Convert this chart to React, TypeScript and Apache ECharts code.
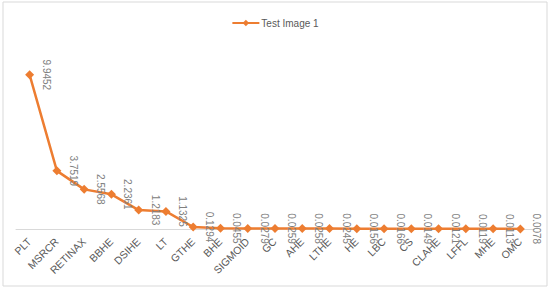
import React, { useEffect, useRef } from "react";
import * as echarts from "echarts";

const categories = ["PLT", "MSRCR", "RETINAX", "BBHE", "DSIHE", "LT", "GTHE", "BHE", "SIGMOID", "GC", "AHE", "LTHE", "HE", "LBC", "CS", "CLAHE", "LFFL", "MHE", "OMC"];
const values = [9.9452, 3.7519, 2.5568, 2.2361, 1.2183, 1.1325, 0.1294, 0.0455, 0.0279, 0.0259, 0.0258, 0.0245, 0.0156, 0.0166, 0.0149, 0.0121, 0.0119, 0.0113, 0.0078];
const seriesName = "Test Image 1";

export default function App() {
  const ref = useRef<HTMLDivElement>(null);
  useEffect(() => {
    if (!ref.current) return;
    const chart = echarts.init(ref.current, null, { renderer: "svg" });
    chart.setOption({
      animation: false,
      backgroundColor: "#ffffff",
      textStyle: { fontFamily: "Liberation Sans" },
      graphic: [
        {
          type: "rect",
          shape: { x: 3, y: 2, width: 544, height: 284 },
          style: { fill: "none", stroke: "#d9d9d9", lineWidth: 1 },
          silent: true,
        },
      ],
      legend: {
        top: 13,
        left: "center",
        itemWidth: 27,
        itemHeight: 8,
        itemGap: 4,
        textStyle: { color: "#595959", fontSize: 10, fontFamily: "Liberation Sans", padding: [0, 0, 0, -3] },
        data: [seriesName],
      },
      grid: { left: 16, right: 16, top: 43, bottom: 60, containLabel: false },
      xAxis: {
        type: "category",
        data: categories,
        boundaryGap: true,
        axisLine: { lineStyle: { color: "#d9d9d9", width: 1 } },
        axisTick: { show: false },
        axisLabel: {
          rotate: 45,
          interval: 0,
          margin: 11,
          color: "#595959",
          fontSize: 10.5,
          fontFamily: "Liberation Sans",
        },
      },
      yAxis: {
        type: "value",
        min: 0,
        max: 12,
        show: false,
        splitLine: { show: false },
      },
      series: [
        {
          name: seriesName,
          type: "line",
          data: values,
          symbol: "diamond",
          symbolSize: 9,
          lineStyle: { color: "#ED7D31", width: 2.5 },
          itemStyle: { color: "#ED7D31" },
          label: {
            show: true,
            position: "right",
            distance: 12,
            rotate: -90,
            align: "center",
            verticalAlign: "middle",
            color: "#808080",
            fontSize: 10,
            fontFamily: "Liberation Sans",
            formatter: (p: any) => p.value.toFixed(4),
          },
        },
      ],
    });
    return () => chart.dispose();
  }, []);
  return <div ref={ref} style={{ width: 550, height: 289, position: "absolute", left: 0, top: 0 }} />;
}
